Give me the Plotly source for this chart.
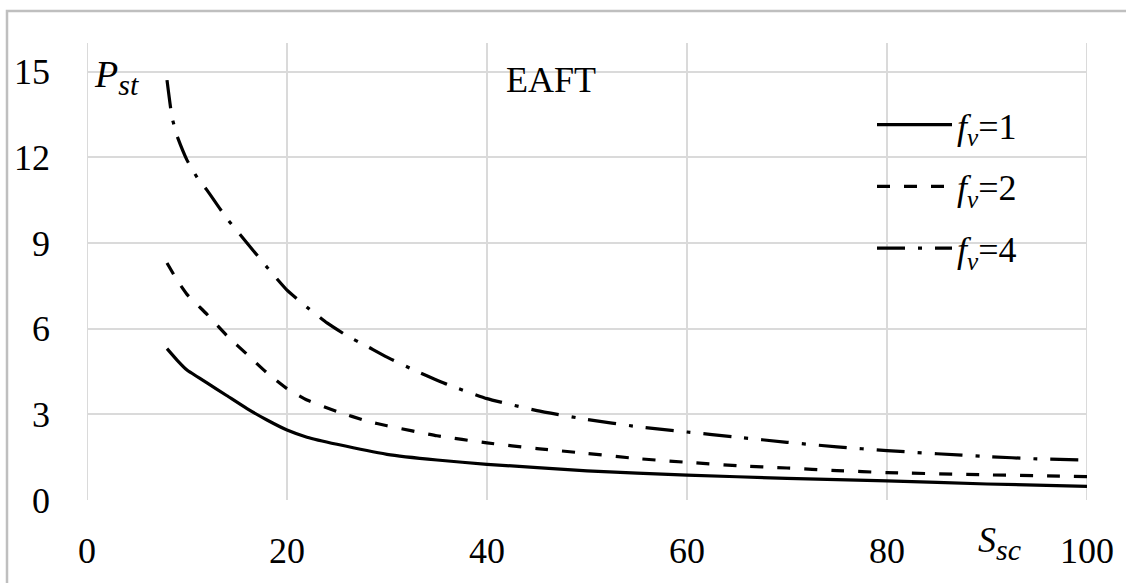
import plotly.graph_objects as go

# ---- data ----
x_f1 = [8, 9, 10, 12, 14, 16, 18, 20, 22, 25, 30, 35, 40, 50, 60, 70, 80, 90, 100]
y_f1 = [5.3, 4.9, 4.55, 4.1, 3.65, 3.2, 2.8, 2.45, 2.2, 1.95, 1.6, 1.4, 1.25, 1.02, 0.87, 0.76, 0.67, 0.56, 0.48]

x_f2 = [8, 9, 10, 12, 14, 16, 18, 20, 22, 25, 28, 30, 35, 40, 45, 50, 55, 60, 65, 70, 75, 80, 90, 100]
y_f2 = [8.3, 7.7, 7.2, 6.5, 5.75, 5.1, 4.45, 3.9, 3.5, 3.1, 2.76, 2.6, 2.25, 2.0, 1.8, 1.63, 1.45, 1.32, 1.2, 1.12, 1.03, 0.96, 0.88, 0.82]

x_f4 = [8, 8.5, 9, 10, 11, 12, 14, 16, 18, 20, 22, 24, 26, 28, 30, 33, 36, 40, 45, 50, 55, 60, 65, 70, 75, 80, 85, 90, 95, 100]
y_f4 = [14.7, 13.4, 12.75, 11.9, 11.3, 10.85, 9.85, 9.0, 8.15, 7.35, 6.75, 6.2, 5.75, 5.38, 5.0, 4.5, 4.05, 3.55, 3.13, 2.82, 2.57, 2.38, 2.2, 2.02, 1.86, 1.73, 1.62, 1.52, 1.44, 1.40]

names = ["<i>f</i><sub><i>v</i></sub>=1", "<i>f</i><sub><i>v</i></sub>=2", "<i>f</i><sub><i>v</i></sub>=4"]
x_ticks = [0, 20, 40, 60, 80, 100]
x_ticktext = ["0", "20", "40", "60", "80", "100"]
y_ticks = [0, 3, 6, 9, 12, 15]

FONT = "Liberation Serif"

fig = go.Figure()
series = [(x_f1, y_f1, "solid"), (x_f2, y_f2, "13px,14px"), (x_f4, y_f4, "28px,13px,4px,13px")]
for i, (xs, ys, dash) in enumerate(series):
    fig.add_trace(go.Scatter(
        x=xs, y=ys, mode="lines", name=names[i], legendgroup=f"g{i}",
        line=dict(color="black", width=3.2, dash=dash, shape="spline", smoothing=0.4),
    ))

fig.update_layout(
    width=1126, height=583,
    margin=dict(l=87, r=39, t=43, b=70),
    paper_bgcolor="white", plot_bgcolor="white",
    font=dict(family=FONT, size=36, color="black"),
    showlegend=True,
    legend=dict(
        x=0.785, y=0.887, xanchor="left", yanchor="top",
        bgcolor="rgba(0,0,0,0)", font=dict(family=FONT, size=36, color="black"),
        itemwidth=75, tracegroupgap=12,
    ),
    xaxis=dict(
        range=[0, 100], tickvals=x_ticks, ticktext=x_ticktext,
        showgrid=True, gridcolor="#dadada", gridwidth=2,
        zeroline=False, showline=False, ticks="", ticklabelstandoff=26,
        tickfont=dict(family=FONT, size=36, color="black"),
    ),
    yaxis=dict(
        range=[0, 16], tickvals=y_ticks,
        showgrid=True, gridcolor="#dadada", gridwidth=2,
        zeroline=False, showline=False, ticks="", ticklabelstandoff=36,
        tickfont=dict(family=FONT, size=36, color="black"),
    ),
    shapes=[
        dict(type="rect", xref="paper", yref="paper", x0=-0.08, x1=1.2, y0=-0.3, y1=1.0702,
             line=dict(color="#bfbfbf", width=2.5), layer="above"),
        dict(type="line", xref="x", yref="paper", x0=0, x1=0, y0=0, y1=1,
             line=dict(color="#dadada", width=2), layer="below"),
        dict(type="line", xref="x", yref="paper", x0=100, x1=100, y0=0, y1=1,
             line=dict(color="#dadada", width=2), layer="below"),
    ],
    annotations=[
        dict(text="EAFT", x=0.464, y=0.92, xref="paper", yref="paper", showarrow=False,
             font=dict(family=FONT, size=36), xanchor="center", yanchor="middle"),
        dict(text="<i>P</i><sub><i><span style='font-size:30px'>st</span></i></sub>",
             x=0.005, y=0.925, xref="paper", yref="paper",
             showarrow=False, font=dict(family=FONT, size=38), xanchor="left", yanchor="middle"),
        dict(text="<i>S</i><sub><i><span style='font-size:30px'>sc</span></i></sub>",
             x=0.889, y=-0.095, xref="paper", yref="paper",
             showarrow=False, font=dict(family=FONT, size=36), xanchor="left", yanchor="middle"),
    ],
)

fig.write_html("out.html")
